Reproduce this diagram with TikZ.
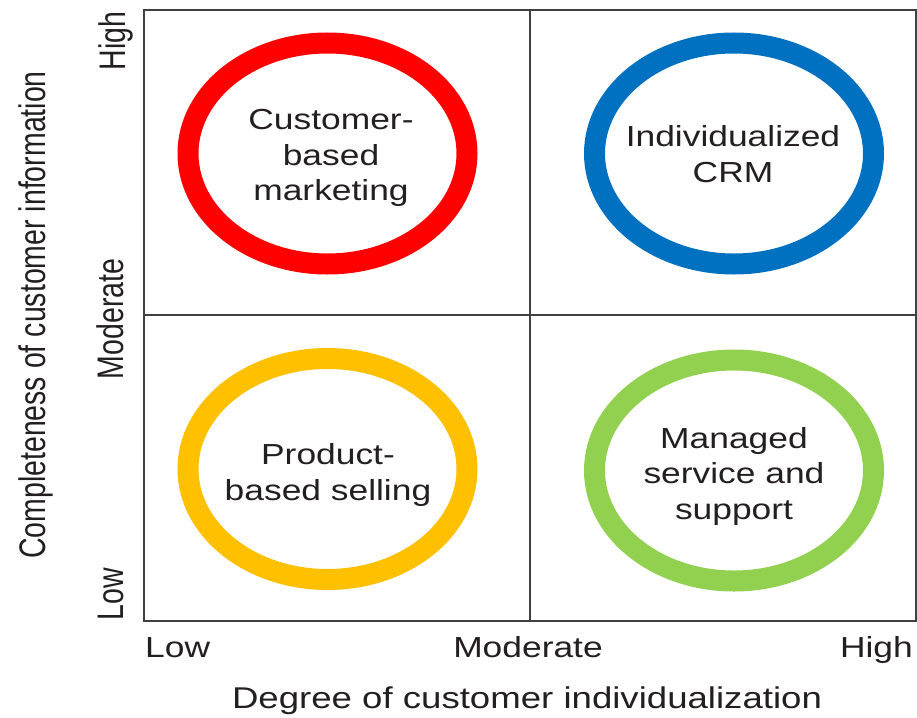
\documentclass[tikz,border=0pt]{standalone}
\usepackage{fontspec}
\usetikzlibrary{shapes.geometric}
\setmainfont{Liberation Sans}
\newfontfamily\hfont[FakeStretch=1.22]{Liberation Sans}
\newfontfamily\vfont[FakeStretch=0.77]{Liberation Sans}
\definecolor{ringred}{HTML}{FF0000}
\definecolor{ringblue}{HTML}{0070C0}
\definecolor{ringyellow}{HTML}{FFC000}
\definecolor{ringgreen}{HTML}{92D050}
\definecolor{txt}{HTML}{231F20}
\definecolor{gridline}{HTML}{404040}
\tikzset{
  ring/.style={ellipse, draw=#1, line width=21pt, minimum width=279pt, minimum height=221pt, inner sep=0pt},
  quadtext/.style={align=center, inner sep=0pt, text=txt, font=\hfont\fontsize{29}{35.5}\selectfont},
  axtick/.style={inner sep=0pt, text=txt, font=\hfont\fontsize{29}{35}\selectfont},
  axtitle/.style={inner sep=0pt, text=txt, font=\hfont\fontsize{30}{36}\selectfont},
  vtick/.style={inner sep=0pt, text=txt, rotate=90, anchor=base, font=\vfont\fontsize{37}{40}\selectfont},
  gridl/.style={draw=gridline, line width=2pt}
}
\begin{document}
\begin{tikzpicture}[x=1pt, y=-1pt]
\useasboundingbox (0,0) rectangle (917,717);
% frame
\coordinate (tl) at (144,10);
\coordinate (br) at (916,621);
\coordinate (mt) at (530,10);
\coordinate (mb) at (530,621);
\coordinate (ml) at (144,315);
\coordinate (mr) at (916,315);
\draw[gridl] (tl) rectangle (br);
\draw[gridl] (mt) -- (mb);
\draw[gridl] (ml) -- (mr);
% rings
\node[ring=ringred] (r1) at (327.5,153.5) {};
\node[ring=ringblue] (r2) at (734,153.5) {};
\node[ring=ringyellow] (r3) at (327.5,469) {};
\node[ring=ringgreen] (r4) at (734,470.5) {};
% quadrant texts
\node[quadtext] (t1) at (331,158) {Customer-\\based\\marketing};
\node[quadtext] (t2) at (733,154) {Individualized\\CRM};
\node[quadtext] (t3) at (328,475) {Product-\\based selling};
\node[quadtext] (t4) at (734,476) {Managed\\service and\\support};
% x axis
\node[axtick, anchor=base west] (xlow) at (145,657) {Low};
\node[axtick, anchor=base] (xmod) at (528,657) {Moderate};
\node[axtick, anchor=base east] (xhigh) at (913,657) {High};
\node[axtitle, anchor=base] (xtitle) at (527,708) {Degree of customer individualization};
% y axis
\node[vtick] (yhigh) at (125,41) {High};
\node[vtick] (ymod) at (123,319) {Moderate};
\node[vtick] (ylow) at (123,594) {Low};
\node[vtick] (ytitle) at (45,315) {Completeness of customer information};
\end{tikzpicture}
\end{document}
